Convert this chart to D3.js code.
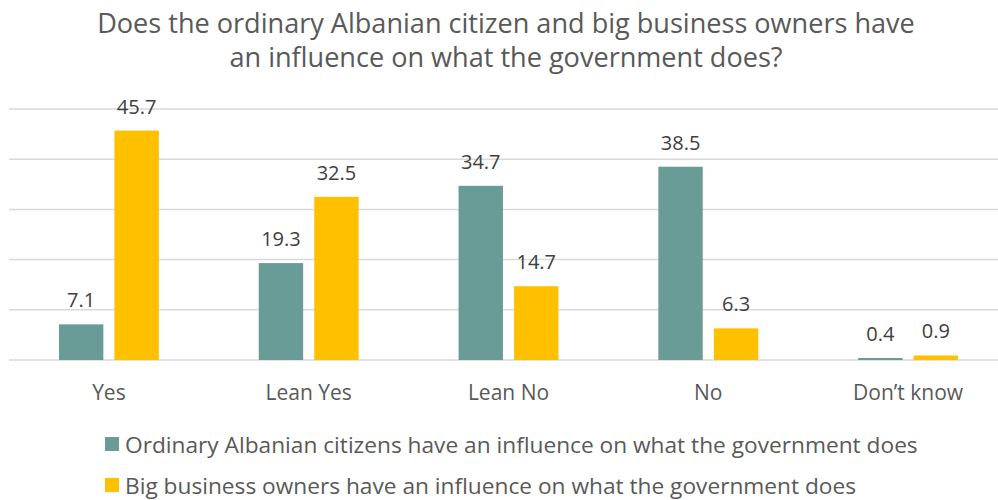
<!DOCTYPE html>
<html>
<head>
<meta charset="utf-8">
<script src="https://cdn.jsdelivr.net/npm/d3@7"></script>
<style>
  html, body { margin: 0; padding: 0; background: #fff; }
  svg { display: block; font-family: "Open Sans", "DejaVu Sans", sans-serif; }
</style>
</head>
<body>
<svg id="chart" width="998" height="500"></svg>
<script>
// Survey answer categories
const categories = ["Yes", "Lean Yes", "Lean No", "No", "Don\u2019t know"];
// Share of respondents (%) per series
const citizensValues = [7.1, 19.3, 34.7, 38.5, 0.4];
const businessValues = [45.7, 32.5, 14.7, 6.3, 0.9];
const seriesNames = [
  "Ordinary Albanian citizens have an influence on what the government does",
  "Big business owners have an influence on what the government does"
];
const seriesColors = ["#699C96", "#FFC000"];
const yTicks = [0, 10, 20, 30, 40, 50];
const titleLines = [
  "Does the ordinary Albanian citizen and big business owners have",
  "an influence on what the government does?"
];

const series = [citizensValues, businessValues];
const svg = d3.select("#chart");
const W = 998;

const margin = { left: 9, right: 1008, top: 109, bottom: 360 };

const x = d3.scaleBand()
  .domain(categories)
  .range([margin.left, margin.right])
  .paddingInner(0.5)
  .paddingOuter(0.25);

const xSub = d3.scaleBand()
  .domain(d3.range(series.length))
  .range([0, x.bandwidth()])
  .paddingInner(0.2);

const y = d3.scaleLinear()
  .domain([0, 50])
  .range([margin.bottom, margin.top]);

// fit a text element's font size so its rendered width matches a target
function fitWidth(sel, target) {
  const node = sel.node();
  const fs = parseFloat(sel.attr("font-size"));
  const w = node.getComputedTextLength();
  sel.attr("font-size", (fs * target / w).toFixed(2));
}

// Gridlines
svg.append("g")
  .selectAll("line")
  .data(yTicks)
  .join("line")
  .attr("x1", margin.left)
  .attr("x2", W)
  .attr("y1", d => y(d))
  .attr("y2", d => y(d))
  .attr("stroke", "#D9D9D9")
  .attr("stroke-width", 1.5);

// Bars
const groups = svg.append("g")
  .selectAll("g")
  .data(categories)
  .join("g")
  .attr("transform", d => `translate(${x(d)},0)`);

groups.selectAll("rect")
  .data((d, i) => series.map((s, k) => ({ k, v: s[i] })))
  .join("rect")
  .attr("x", d => xSub(d.k))
  .attr("width", xSub.bandwidth())
  .attr("y", d => y(d.v))
  .attr("height", d => y(0) - y(d.v))
  .attr("fill", d => seriesColors[d.k]);

// Value labels
groups.selectAll("text")
  .data((d, i) => series.map((s, k) => ({ k, v: s[i] })))
  .join("text")
  .attr("x", d => xSub(d.k) + xSub.bandwidth() / 2)
  .attr("y", d => y(d.v) - 17)
  .attr("text-anchor", "middle")
  .attr("font-size", 20)
  .attr("fill", "#404040")
  .text(d => d.v.toFixed(1));

// Category axis labels
svg.append("g")
  .selectAll("text")
  .data(categories)
  .join("text")
  .attr("x", d => x(d) + x.bandwidth() / 2)
  .attr("y", 400)
  .attr("text-anchor", "middle")
  .attr("font-size", 21)
  .attr("fill", "#595959")
  .text(d => d);

// Title
const title = svg.append("g");
const t1 = title.append("text")
  .attr("x", 506).attr("y", 33)
  .attr("text-anchor", "middle")
  .attr("font-size", 24)
  .attr("fill", "#595959")
  .text(titleLines[0]);
fitWidth(t1, 818);
const t2 = title.append("text")
  .attr("x", 506).attr("y", 67)
  .attr("text-anchor", "middle")
  .attr("font-size", t1.attr("font-size"))
  .attr("fill", "#595959")
  .text(titleLines[1]);

// Legend
const legend = svg.append("g");
const legendRows = [453, 494];
seriesNames.forEach((name, i) => {
  legend.append("rect")
    .attr("x", 105)
    .attr("y", legendRows[i] - 16)
    .attr("width", 14)
    .attr("height", 14)
    .attr("fill", seriesColors[i]);
  const t = legend.append("text")
    .attr("x", 125)
    .attr("y", legendRows[i])
    .attr("font-size", 20)
    .attr("fill", "#595959")
    .text(name);
  if (i === 0) fitWidth(t, 793);
  else t.attr("font-size", legend.select("text").attr("font-size"));
});
</script>
</body>
</html>
